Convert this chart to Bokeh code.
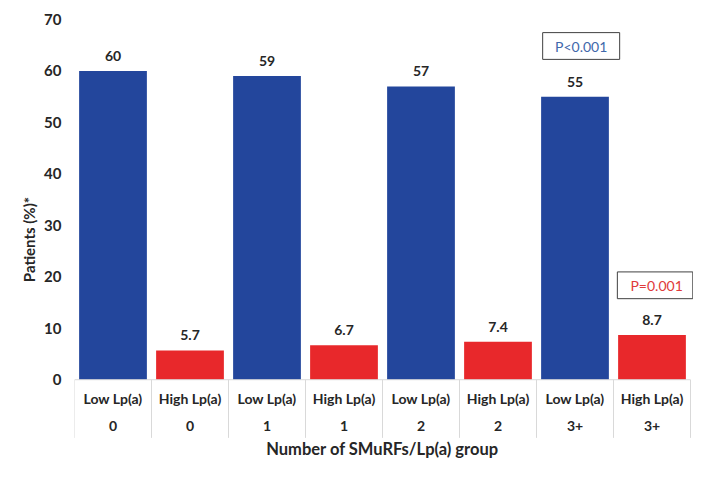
from bokeh.plotting import figure
from bokeh.models import Range1d, FixedTicker, ColumnDataSource, Span
from bokeh.core.properties import value
from bokeh.embed import file_html
from bokeh.resources import INLINE

lp_groups = ["Low Lp(a)", "High Lp(a)", "Low Lp(a)", "High Lp(a)",
             "Low Lp(a)", "High Lp(a)", "Low Lp(a)", "High Lp(a)"]
smurf_groups = ["0", "0", "1", "1", "2", "2", "3+", "3+"]
patients_pct = [60, 5.7, 59, 6.7, 57, 7.4, 55, 8.7]
value_labels = ["60", "5.7", "59", "6.7", "57", "7.4", "55", "8.7"]
y_ticks = [0, 10, 20, 30, 40, 50, 60, 70]
p_texts = ["P<0.001", "P=0.001"]

FONT = "Lato"
BLUE = "#23469c"
RED = "#e8282b"
DARK = "#262626"

n = len(lp_groups)
centers = [i + 0.5 for i in range(n)]
colors = [BLUE if g.startswith("Low") else RED for g in lp_groups]

src = ColumnDataSource(dict(x=centers, top=patients_pct, lab=value_labels,
                            color=colors, lp=lp_groups, sm=smurf_groups))

p = figure(x_range=Range1d(0, 8.039), y_range=Range1d(-15.5, 70),
           width=693, height=463, output_backend="svg", toolbar_location=None,
           min_border_left=74, min_border_right=0, min_border_top=19,
           min_border_bottom=4)
p.outline_line_color = None
p.xgrid.visible = False
p.ygrid.visible = False
p.xaxis.visible = False
p.background_fill_color = "white"
p.border_fill_color = "white"

ya = p.yaxis[0]
ya.ticker = FixedTicker(ticks=y_ticks)
ya.axis_line_color = None
ya.major_tick_line_color = None
ya.minor_tick_line_color = None
ya.major_tick_out = 0
ya.major_tick_in = 0
ya.major_label_standoff = 13
ya.major_label_text_font = FONT
ya.major_label_text_font_style = "bold"
ya.major_label_text_font_size = "15px"
ya.major_label_text_color = DARK
ya.axis_label = "Patients (%)*"
ya.axis_label_text_font = FONT
ya.axis_label_text_font_style = "bold"
ya.axis_label_text_font_size = "15px"
ya.axis_label_text_color = DARK
ya.axis_label_standoff = 3

p.vbar(x="x", top="top", bottom=0, width=0.88, fill_color="color",
       line_color=None, source=src)

# baseline of the category table
p.segment(x0=[0], x1=[n], y0=[0], y1=[0], line_color="#d9d9d9", line_width=1)

# table separators
bounds = list(range(n + 1))
p.segment(x0=bounds, x1=bounds, y0=[0] * len(bounds), y1=[-11.3] * len(bounds),
          line_color="#d9d9d9", line_width=1)

# value labels
p.text(x="x", y="top", text="lab", source=src, text_align="center",
       text_baseline="middle", y_offset=-15, text_font=value(FONT),
       text_font_style="bold", text_font_size="14px", text_color=DARK)

# table labels
p.text(x="x", y=-3.7, text="lp", source=src, text_align="center",
       text_baseline="middle", text_font=value(FONT), text_font_style="bold",
       text_font_size="14px", text_color=DARK)
p.text(x="x", y=-8.9, text="sm", source=src, text_align="center",
       text_baseline="middle", text_font=value(FONT), text_font_style="bold",
       text_font_size="14px", text_color=DARK)

# x title
p.text(x=[n / 2], y=[-13.4], text=["Number of SMuRFs/Lp(a) group"],
       text_align="center", text_baseline="middle", text_font=value(FONT),
       text_font_style="bold", text_font_size="16.5px", text_color=DARK)

# p-value boxes
p.rect(x=[6.58, 7.54], y=[64.85, 18.35], width=[1.0, 0.98], height=5.2,
       fill_color=None, line_color="#404040", line_width=1)
p.text(x=[6.58], y=[64.85], text=[p_texts[0]], text_align="center",
       text_baseline="middle", text_font=value(FONT), text_font_size="14px",
       text_color="#3f68ab")
p.text(x=[7.56], y=[18.35], text=[p_texts[1]], text_align="center",
       text_baseline="middle", text_font=value(FONT), text_font_size="14px",
       text_color="#e03a3a")

open("out.html", "w").write(file_html(p, INLINE))
